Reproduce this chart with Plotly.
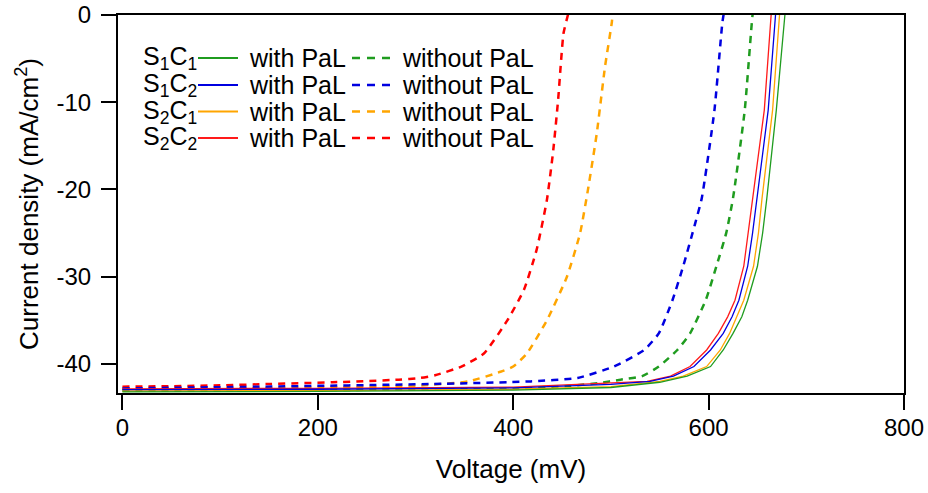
import plotly.graph_objects as go

# ---- data (Voltage mV, Current density mA/cm^2) ----
s1c1_with_v = [0, 200, 400, 500, 550, 578, 602, 615, 625, 634, 640, 650, 655.3, 659.5, 669.3, 677.7, 678.5]
s1c1_with_j = [-43.2, -43.15, -43.0, -42.7, -42.1, -41.4, -40.3, -38.4, -36.5, -34.6, -32.7, -28.8, -25.0, -21.1, -10.9, 0.0, 0.5]

s1c2_with_v = [0, 200, 400, 500, 540, 564, 585, 602, 615, 624, 631, 640, 645, 649.5, 661, 668.5, 669.5]
s1c2_with_j = [-42.95, -42.9, -42.75, -42.35, -42.0, -41.4, -40.3, -38.4, -36.5, -34.6, -32.7, -28.8, -25.0, -21.1, -10.9, 0.0, 0.5]

s2c1_with_v = [0, 200, 400, 500, 550, 574, 598, 612, 621.5, 629, 636, 646, 651, 654.6, 665.5, 672.6, 673.5]
s2c1_with_j = [-43.1, -43.05, -42.9, -42.6, -42.0, -41.4, -40.3, -38.4, -36.5, -34.6, -32.7, -28.8, -25.0, -21.1, -10.9, 0.0, 0.5]

s2c2_with_v = [0, 200, 400, 493, 537, 561, 581, 598, 610, 619.5, 627, 636, 640.5, 645.5, 657, 664, 665]
s2c2_with_j = [-42.85, -42.8, -42.65, -42.2, -42.0, -41.4, -40.3, -38.4, -36.5, -34.6, -32.7, -28.8, -25.0, -21.1, -10.9, 0.0, 0.5]

s1c1_without_v = [0, 200, 400, 459, 487, 510, 532, 549, 568, 581, 597, 608, 618, 625, 637, 645, 646]
s1c1_without_j = [-43.05, -43.0, -42.8, -42.5, -42.2, -41.8, -41.4, -40.3, -38.4, -36.5, -32.7, -28.8, -25.0, -21.0, -10.9, 0.0, 0.5]

s1c2_without_v = [0, 147, 317, 418, 466, 503, 534, 549, 563, 574, 586, 593, 606, 614, 616]
s1c2_without_j = [-42.8, -42.6, -42.3, -42.0, -41.6, -40.3, -38.4, -36.5, -32.7, -28.8, -24.0, -21.0, -10.9, -0.95, 0.5]

s2c1_without_v = [0, 100, 200, 300, 354, 387, 400, 414, 434.5, 455, 468.5, 477, 485.5, 494, 501, 502]
s2c1_without_j = [-42.85, -42.8, -42.7, -42.5, -42.0, -40.9, -40.3, -38.8, -35.0, -30.0, -25.0, -19.7, -13.6, -5.9, -0.8, 0.5]

s2c2_without_v = [0, 50, 100, 150, 215, 283, 305, 320, 347, 370, 394, 411, 424, 434.5, 441, 446, 451.5, 456, 457]
s2c2_without_j = [-42.6, -42.55, -42.45, -42.3, -42.1, -41.8, -41.6, -41.3, -40.3, -38.8, -35.0, -31.5, -26.9, -21.2, -15.5, -9.7, -2.1, 0.0, 0.5]

sample_labels = ["S<sub>1</sub>C<sub>1</sub>", "S<sub>1</sub>C<sub>2</sub>",
                 "S<sub>2</sub>C<sub>1</sub>", "S<sub>2</sub>C<sub>2</sub>"]
colors = ["#1f9c1f", "#0000e0", "#ffa500", "#ff1a1a"]
dash_colors = ["#1f9c1f", "#0000e0", "#ffa500", "#ff0000"]
with_label = "with PaL"
without_label = "without PaL"

x_ticks = [0, 200, 400, 600, 800]
y_ticks = [0, -10, -20, -30, -40]

with_series = [(s1c1_with_v, s1c1_with_j), (s1c2_with_v, s1c2_with_j),
               (s2c1_with_v, s2c1_with_j), (s2c2_with_v, s2c2_with_j)]
without_series = [(s1c1_without_v, s1c1_without_j), (s1c2_without_v, s1c2_without_j),
                  (s2c1_without_v, s2c1_without_j), (s2c2_without_v, s2c2_without_j)]

FONT = "Liberation Sans, Arial, sans-serif"
W, H = 928, 493
ML, MR, MT, MB = 118, 24, 15, 100
PW, PH = W - ML - MR, H - MT - MB

fig = go.Figure()
order = [3, 2, 1, 0]
for i in order:
    v, j = without_series[i]
    fig.add_trace(go.Scatter(x=v, y=j, mode="lines",
                             line=dict(color=dash_colors[i], width=2.5, dash="7px,6px",
                                       shape="spline", smoothing=0.5),
                             showlegend=False, hoverinfo="skip"))
for i in order:
    v, j = with_series[i]
    fig.add_trace(go.Scatter(x=v, y=j, mode="lines",
                             line=dict(color=colors[i], width=1.3),
                             showlegend=False, hoverinfo="skip"))

# custom legend (pixel layout -> paper coords)
def px(xp):
    return (xp - ML) / PW

def py(yp):
    return (MT + PH - yp) / PH

row_y = [58, 85, 111.5, 138]
shapes = []
annotations = []
LF = 25
for k in range(4):
    yy = py(row_y[k])
    annotations.append(dict(x=px(141), y=yy, xref="paper", yref="paper", text=sample_labels[k],
                            showarrow=False, xanchor="left", yanchor="middle",
                            font=dict(family=FONT, size=LF, color="black")))
    shapes.append(dict(type="line", xref="paper", yref="paper", x0=px(198), x1=px(238), y0=yy, y1=yy,
                       line=dict(color=colors[k], width=2)))
    annotations.append(dict(x=px(247), y=yy, xref="paper", yref="paper", text=with_label,
                            showarrow=False, xanchor="left", yanchor="middle",
                            font=dict(family=FONT, size=LF, color="black")))
    shapes.append(dict(type="line", xref="paper", yref="paper", x0=px(352), x1=px(393), y0=yy, y1=yy,
                       line=dict(color=dash_colors[k], width=2.5, dash="8px,7px")))
    annotations.append(dict(x=px(400), y=yy, xref="paper", yref="paper", text=without_label,
                            showarrow=False, xanchor="left", yanchor="middle",
                            font=dict(family=FONT, size=LF, color="black")))

fig.update_layout(
    width=W, height=H,
    margin=dict(l=ML, r=MR, t=MT, b=MB, autoexpand=False),
    paper_bgcolor="white", plot_bgcolor="white",
    font=dict(family=FONT, size=24, color="black"),
    shapes=shapes, annotations=annotations,
    xaxis=dict(range=[-4.5, 800], tickvals=x_ticks, ticktext=[str(t) for t in x_ticks],
               showgrid=False, zeroline=False, showline=True, linecolor="black", linewidth=2,
               mirror=True, ticks="outside", ticklen=15, tickwidth=2, tickcolor="black",
               tickfont=dict(family=FONT, size=24), automargin=False, ticklabelstandoff=-3,
               title=dict(text="Voltage (mV)", font=dict(family=FONT, size=26), standoff=20)),
    yaxis=dict(range=[-43.33, 0], tickvals=y_ticks, ticktext=[str(t) for t in y_ticks],
               showgrid=False, zeroline=False, showline=True, linecolor="black", linewidth=2,
               mirror=True, ticks="outside", ticklen=15, tickwidth=2, tickcolor="black",
               tickfont=dict(family=FONT, size=24), automargin=False, ticklabelstandoff=5,
               title=dict(text="Current density (mA/cm<sup>2</sup>)", font=dict(family=FONT, size=26), standoff=10)),
)

fig.write_html("out.html", config={"displayModeBar": False},
               post_script="document.body.style.margin='0px';")
